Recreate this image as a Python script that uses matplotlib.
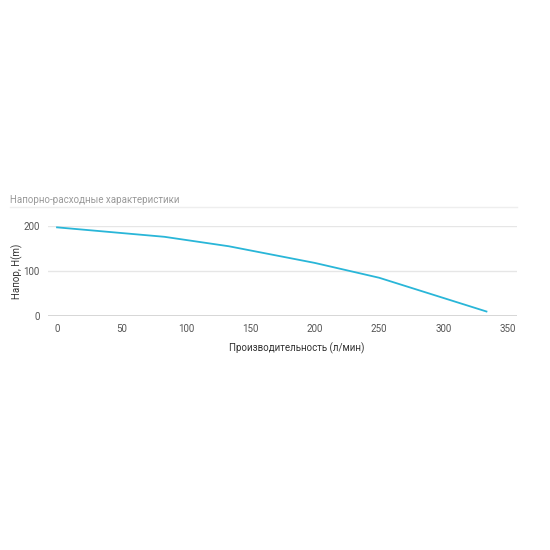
import matplotlib
matplotlib.use("Agg")
import matplotlib.pyplot as plt
from matplotlib.lines import Line2D

flow = [0, 83.3, 133.3, 200, 250, 333.3]
head = [197, 176, 155, 118, 85, 10]
xticks = [0, 50, 100, 150, 200, 250, 300, 350]
yticks = [0, 100, 200]

plt.rcParams['font.family'] = ['Roboto', 'DejaVu Sans']
W = H = 550
fig = plt.figure(figsize=(5.5, 5.5), dpi=100)
ax = fig.add_axes([48/W, 1-316/H, (517-48)/W, 90/H])
ax.plot(flow, head, color='#29b6d8', lw=1.3, solid_joinstyle='round')
ax.set_xlim(-7, 357)
ax.set_ylim(0, 200)
ax.set_xticks(xticks)
ax.set_yticks(yticks)
ax.grid(axis='y', color='#e6e6e6', lw=1)
ax.set_axisbelow(True)
for s in ax.spines.values():
    s.set_visible(False)
ax.axhline(0, color='#cccccc', lw=1.2, zorder=0)
ax.tick_params(length=0, labelsize=7, colors='#555555', pad=6)
fig.text(297/W, 1-348/H, 'Производительность (л/мин)', fontsize=7, color='#333333', ha='center', va='center')
fig.text(17/W, 1-271/H, 'Напор, Н(m)', fontsize=7, color='#333333', ha='center', va='center', rotation=90)
fig.add_artist(Line2D([10/W, 517/W], [1-207/H, 1-207/H], color='#eeeeee', lw=1))
fig.text(10/W, 1-200/H, 'Напорно-расходные характеристики', fontsize=7, color='#999999', va='center')
fig.savefig('out.png', dpi=100)
